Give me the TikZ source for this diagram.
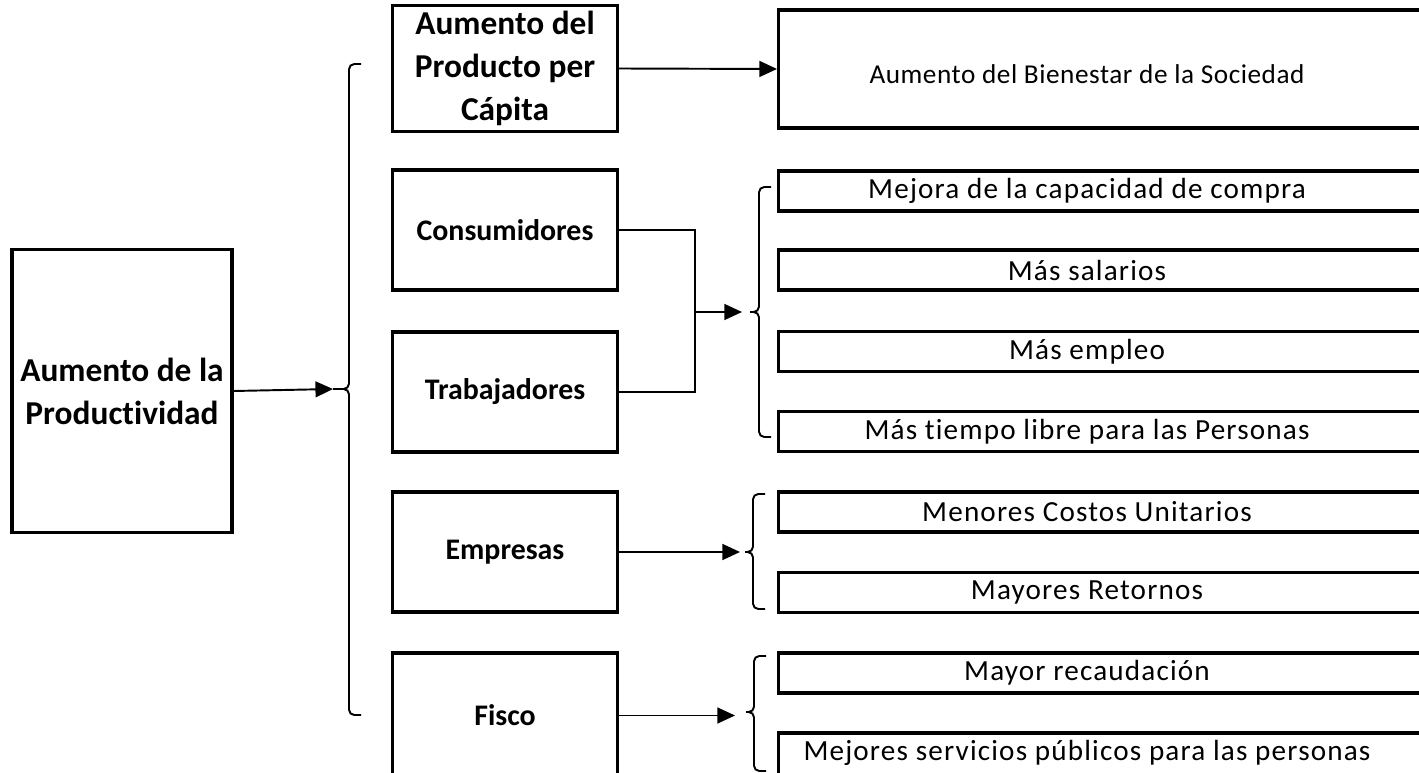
\documentclass[tikz,border=0pt]{standalone}
\usepackage{fontspec}
\setmainfont{Carlito}[Ligatures=NoCommon]
\usetikzlibrary{arrows.meta}

\tikzset{
  box/.style={draw, line width=1.9pt, minimum width=4.5cm, align=center,
    font=\fontsize{17}{24}\selectfont\bfseries},
  bigbox/.style={box, font=\fontsize{19}{24.5}\selectfont\bfseries},
  rbox/.style={draw, line width=1.9pt, anchor=west, minimum width=14cm, minimum height=0.8cm},
  rtxt/.style={font=\fontsize{16.6}{19}\selectfont\addfontfeatures{LetterSpace=4}},
  link/.style={line width=1.1pt},
  arr/.style={link, -{Triangle[length=10pt,width=9pt]}},
  brace/.style={line width=1.1pt, rounded corners=3pt},
}

% curly bracket: x, top, middle, bottom, tick
\newcommand{\drawbrace}[5]{
  \draw[brace] (#1+12,#2) -- (#1,#2) -- (#1,#3) -- (#1-#5,#3);
  \draw[brace] (#1+12,#4) -- (#1,#4) -- (#1,#3) -- (#1-#5,#3);
}

\begin{document}
\begin{tikzpicture}[x=0.02cm, y=-0.02cm]
    \useasboundingbox (0,0) rectangle (1419,773);
    \clip (0,0) rectangle (1419,773);
    % Left box
    \node[bigbox, minimum width=4.4cm, minimum height=5.66cm] (prod) at (122,391) {Aumento de la\\Productividad};
    % Middle boxes
    \node[bigbox, minimum height=2.34cm] (capita) at (505,68.5) {Aumento del\\Producto per\\Cápita};
    \node[box, minimum height=2.4cm] (cons) at (505,230) {Consumidores};
    \node[box, minimum height=2.4cm] (trab) at (505,392) {Trabajadores};
    \node[box, minimum height=2.4cm] (emp) at (505,552) {Empresas};
    \node[box, minimum height=2.5cm] (fisco) at (505,715.5) {Fisco};
    % Right boxes
    \node[rbox, minimum height=2.36cm] (bien) at (777,69) {};
    \node[rtxt, font=\fontsize{15.5}{19}\selectfont\addfontfeatures{LetterSpace=2}] at (1087,74) {Aumento del Bienestar de la Sociedad};
    \foreach \n/\yc/\txt in {m1/191/Mejora de la capacidad de compra, m2/270/Más salarios,
        m3/351.5/Más empleo, m4/431.5/Más tiempo libre para las Personas,
        e1/512/Menores Costos Unitarios, e2/592.5/Mayores Retornos,
        f1/673/Mayor recaudación} {
        \node[rbox] (\n) at (777,\yc) {};
        \node[rtxt] at (1087,\yc) {\txt};
    }
    \node[rbox, minimum height=0.88cm] (f2) at (777,755) {};
    \node[rtxt] at (1087,753) {Mejores servicios públicos para las personas};
    % Brackets
    \drawbrace{349}{64}{389}{715}{16}
    \drawbrace{759}{187}{312}{437}{9}
    \drawbrace{753}{494}{552}{609}{8}
    \drawbrace{754}{656}{712}{771}{8}
    % Connectors
    \coordinate (c0) at (333,389);
    \coordinate (j1) at (695,312);
    \coordinate (c1) at (742,312);
    \coordinate (c2) at (740,552);
    \coordinate (c3) at (735,715.5);
    \draw[arr] (prod.east) -- (c0);
    \draw[arr] (capita.east) -- (bien.west);
    \draw[link] (cons.east) -| (j1);
    \draw[link] (trab.east) -| (j1);
    \draw[arr] (j1) -- (c1);
    \draw[arr] (emp.east) -- (c2);
    \draw[arr] (fisco.east) -- (c3);
\end{tikzpicture}
\end{document}
